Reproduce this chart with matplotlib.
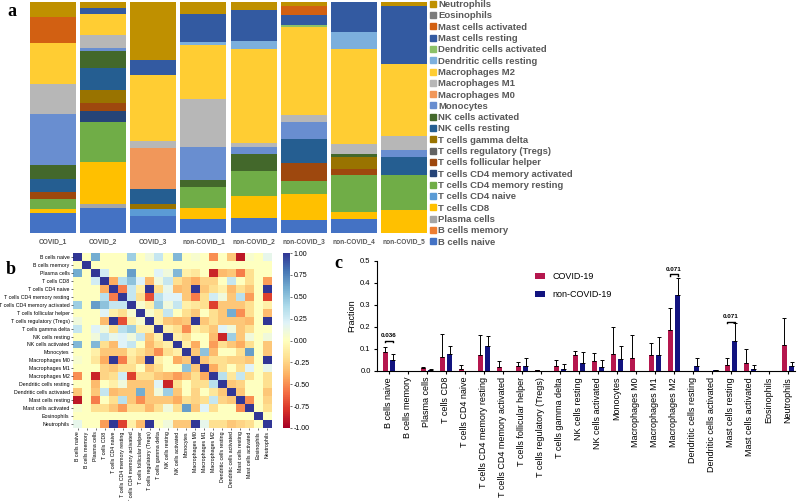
import numpy as np
import matplotlib
matplotlib.use("Agg")
import matplotlib.pyplot as plt
from matplotlib.patches import Patch

plt.rcParams['font.family'] = ['Liberation Sans', 'DejaVu Sans']

# cell types (CIBERSORT order)
cell_types = ["B cells naive", "B cells memory", "Plasma cells", "T cells CD8",
              "T cells CD4 naive", "T cells CD4 memory resting", "T cells CD4 memory activated",
              "T cells follicular helper", "T cells regulatory (Tregs)", "T cells gamma delta",
              "NK cells resting", "NK cells activated", "Monocytes", "Macrophages M0",
              "Macrophages M1", "Macrophages M2", "Dendritic cells resting",
              "Dendritic cells activated", "Mast cells resting", "Mast cells activated",
              "Eosinophils", "Neutrophils"]
cell_colors = ["#4472C4", "#ED7D31", "#A5A5A5", "#FFC000", "#5B9BD5", "#70AD47",
               "#264478", "#9E480E", "#636363", "#997300", "#255E91", "#43682B",
               "#698ED0", "#F1975A", "#B7B7B7", "#FFCD33", "#7CAFDD", "#8CC168",
               "#335AA1", "#D26012", "#7C7C7C", "#BF9000"]

# panel a: relative fractions (%) per sample
samples = ["COVID_1", "COVID_2", "COVID_3", "non-COVID_1", "non-COVID_2",
           "non-COVID_3", "non-COVID_4", "non-COVID_5"]
covid_1 = [8.7, 0, 0, 1.7, 0, 4.2, 0, 3.0, 0, 0, 5.6, 6.1, 22.1, 0, 13.3, 17.7, 0, 0, 0, 11.1, 0, 6.5]
covid_2 = [10.8, 0, 1.6, 18.3, 0, 17.3, 4.8, 3.5, 0, 5.8, 9.4, 7.2, 1.4, 0, 5.5, 9.4, 0, 0, 2.6, 0, 0, 2.5]
covid_3 = [7.2, 0, 0, 0, 3.2, 0, 0, 0, 0, 2.0, 6.8, 0, 0, 17.7, 2.9, 28.7, 0, 0, 6.2, 0, 0, 25.3]
noncovid_1 = [6.2, 0, 0, 4.8, 0, 8.9, 0, 0, 0, 0, 0, 2.9, 14.4, 0, 20.9, 23.1, 1.7, 0, 12.0, 0, 0, 5.1]
noncovid_2 = [6.5, 0, 0, 9.7, 0, 10.7, 0, 0, 0, 0, 0, 7.2, 3.2, 0, 1.7, 40.5, 3.5, 0, 13.7, 0, 0, 3.3]
noncovid_3 = [5.5, 0, 0, 11.5, 0, 5.3, 0, 7.9, 0, 0, 10.5, 0, 7.2, 0, 2.9, 38.2, 0, 1.0, 4.0, 3.9, 0, 1.9]
noncovid_4 = [5.9, 0, 0, 3.2, 0, 16.2, 0, 2.6, 0, 5.1, 0, 1.4, 0, 0, 4.3, 40.8, 7.5, 0, 13.0, 0, 0, 0]
noncovid_5 = [0, 0, 0, 10.1, 0, 14.9, 0, 0, 0, 0, 7.9, 0, 2.9, 0, 6.1, 31.2, 0, 0, 25.3, 0, 0, 1.7]

# panel b: pairwise correlations (upper triangle, others ~0)
corr_pairs = [
    (0, 2, 0.6), (0, 6, 0.45), (0, 8, 0.1), (0, 9, 0.3), (0, 11, 0.55), (0, 13, 0.05),
    (0, 15, -0.5), (0, 17, -0.3), (0, 18, -0.9), (0, 19, 0.05), (0, 21, 0.15),
    (2, 3, 0.25), (2, 6, 0.65), (2, 9, 0.2), (2, 10, 0.1), (2, 11, 0.55), (2, 12, -0.1),
    (2, 13, -0.15), (2, 15, -0.85), (2, 16, -0.35), (2, 17, -0.3), (2, 18, -0.55), (2, 19, -0.2),
    (3, 4, -0.4), (3, 5, 0.35), (3, 6, 0.5), (3, 7, 0.2), (3, 8, -0.35), (3, 9, 0.1),
    (3, 10, 0.3), (3, 11, -0.2), (3, 12, -0.3), (3, 13, -0.4), (3, 14, -0.25), (3, 15, -0.25),
    (3, 17, 0.3), (3, 19, -0.2), (3, 21, -0.45),
    (4, 5, -0.55), (4, 6, 0.3), (4, 7, -0.1), (4, 8, 1.0), (4, 9, -0.2), (4, 10, 0.15),
    (4, 11, -0.35), (4, 12, -0.3), (4, 13, 1.0), (4, 14, -0.3), (4, 15, -0.2), (4, 16, -0.1),
    (4, 17, -0.35), (4, 18, -0.2), (4, 19, -0.3), (4, 21, 1.0),
    (5, 6, 0.3), (5, 7, -0.2), (5, 8, -0.7), (5, 9, 0.35), (5, 10, 0.2), (5, 11, 0.2),
    (5, 12, -0.3), (5, 13, -0.55), (5, 14, -0.2), (5, 15, 0.25), (5, 16, 0.1), (5, 17, -0.3),
    (5, 18, 0.35), (5, 19, -0.45), (5, 21, -0.75),
    (6, 7, 0.05), (6, 8, -0.1), (6, 9, 0.45), (6, 10, 0.1), (6, 11, 0.3), (6, 12, -0.1),
    (6, 13, -0.15), (6, 14, -0.2), (6, 15, -0.75), (6, 16, -0.3), (6, 17, -0.3), (6, 18, -0.3),
    (6, 19, -0.2), (6, 21, -0.1),
    (7, 8, 0.05), (7, 9, -0.1), (7, 10, 0.3), (7, 12, -0.2), (7, 13, -0.3), (7, 15, -0.2),
    (7, 16, -0.3), (7, 17, 0.6), (7, 18, -0.5), (7, 19, -0.2), (7, 21, -0.35),
    (8, 9, -0.1), (8, 10, -0.3), (8, 11, -0.35), (8, 12, -0.3), (8, 13, 1.0), (8, 14, -0.3),
    (8, 15, -0.2), (8, 16, -0.3), (8, 17, -0.3), (8, 18, -0.3), (8, 19, -0.35), (8, 21, 1.0),
    (9, 10, -0.1), (9, 11, -0.2), (9, 12, -0.5), (9, 13, -0.1), (9, 14, -0.2), (9, 15, -0.3),
    (9, 16, 0.2), (9, 17, 0.1), (9, 18, -0.3), (9, 19, -0.2),
    (10, 11, -0.1), (10, 12, -0.2), (10, 15, -0.35), (10, 16, -0.85), (10, 17, 0.45),
    (10, 18, -0.3), (10, 19, 0.1), (10, 21, 0.1),
    (11, 12, -0.1), (11, 13, -0.4), (11, 15, -0.45), (11, 16, -0.2), (11, 17, -0.3),
    (11, 18, -0.4), (11, 19, -0.2), (11, 21, -0.3),
    (12, 13, -0.3), (12, 14, 0.5), (12, 15, -0.35), (12, 18, -0.2), (12, 19, 0.65), (12, 21, -0.3),
    (13, 14, -0.3), (13, 15, -0.2), (13, 16, -0.2), (13, 17, -0.25), (13, 18, -0.25),
    (13, 19, -0.3), (13, 21, 1.0),
    (14, 15, -0.4), (14, 16, -0.2), (14, 18, -0.2), (14, 19, 0.2), (14, 21, 0.15),
    (15, 16, 0.35), (15, 17, -0.15), (15, 18, 0.3), (15, 19, -0.2), (15, 21, -0.2),
    (16, 17, -0.3), (16, 18, -0.25), (16, 21, -0.2),
    (17, 18, -0.3), (17, 21, -0.3),
    (18, 19, -0.5), (18, 21, -0.25),
    (19, 21, -0.2),
]

# panel c: mean fraction and SD per group
covid_mean = [0.086, 0, 0.011, 0.064, 0.008, 0.070, 0.015, 0.020, 0.003, 0.020, 0.073,
              0.042, 0.076, 0.059, 0.071, 0.185, 0, 0, 0.027, 0.036, 0, 0.117]
covid_sd = [0.023, 0, 0.005, 0.103, 0.018, 0.092, 0.030, 0.018, 0.002, 0.030, 0.016,
            0.040, 0.124, 0.103, 0.056, 0.100, 0, 0, 0.032, 0.064, 0, 0.124]
noncovid_mean = [0.047, 0, 0.005, 0.074, 0, 0.112, 0, 0.021, 0, 0.008, 0.036,
                 0.018, 0.055, 0, 0.073, 0.344, 0.023, 0.003, 0.136, 0.008, 0, 0.020]
noncovid_sd = [0.029, 0, 0.002, 0.040, 0, 0.047, 0, 0.035, 0, 0.022, 0.050,
               0.029, 0.057, 0, 0.079, 0.079, 0.033, 0, 0.081, 0.016, 0, 0.021]
pvals = [(0, "0.036", 0.136), (15, "0.071", 0.438), (18, "0.071", 0.223)]

W, H = 800, 501
fig = plt.figure(figsize=(W / 100, H / 100), dpi=100)


def px_axes(x0, y0, x1, y1):
    return fig.add_axes([x0 / W, 1 - y1 / H, (x1 - x0) / W, (y1 - y0) / H])


# ---- a: stacked bars
ax_a = px_axes(30, 2, 427, 233)
frac = np.array([covid_1, covid_2, covid_3, noncovid_1, noncovid_2,
                 noncovid_3, noncovid_4, noncovid_5], dtype=float).T
frac = frac / frac.sum(axis=0) * 100
xs = np.arange(len(samples))
bottom = np.zeros(len(samples))
for k, name in enumerate(cell_types):
    ax_a.bar(xs, frac[k], 0.92, bottom=bottom, color=cell_colors[k], linewidth=0)
    bottom += frac[k]
ax_a.set_xlim(-0.46, len(samples) - 0.54)
ax_a.set_ylim(0, 100)
for s in ax_a.spines.values():
    s.set_visible(False)
ax_a.set_yticks([])
ax_a.set_xticks(xs)
ax_a.set_xticklabels(samples, fontsize=4.8, fontweight='bold', color='#595959')
ax_a.tick_params(axis='x', length=0, pad=4)

handles = [Patch(color=c) for c in cell_colors]
fig.legend(handles[::-1], cell_types[::-1], loc='upper left',
           bbox_to_anchor=(430 / W, 1 - 0 / H), frameon=False,
           prop={'size': 6.8, 'weight': 'bold'}, labelcolor='#595959',
           labelspacing=0.245, handlelength=0.6, handleheight=0.6,
           handletextpad=0.3, borderpad=0, borderaxespad=0)

# ---- b: correlation heatmap
n = len(cell_types)
corr = np.eye(n)
for i, j, r in corr_pairs:
    corr[i, j] = r
    corr[j, i] = r
ax_b = px_axes(73, 253, 272, 428)
mesh = ax_b.pcolormesh(corr, cmap='RdYlBu', vmin=-1, vmax=1)
ax_b.set_xlim(0, n)
ax_b.set_ylim(n, 0)
ax_b.set_xticks(np.arange(n) + 0.5)
ax_b.set_yticks(np.arange(n) + 0.5)
ax_b.set_xticklabels(cell_types, rotation=90, fontsize=3.8)
ax_b.set_yticklabels(cell_types, fontsize=3.8)
ax_b.tick_params(length=1.5, width=0.4, pad=1)
for s in ax_b.spines.values():
    s.set_visible(False)
cax = px_axes(283, 253, 290, 428)
cb = fig.colorbar(mesh, cax=cax, ticks=np.arange(-1, 1.01, 0.25), format='%.2f')
cb.outline.set_visible(False)
cax.tick_params(labelsize=5, length=1.5, width=0.4, pad=1)

# ---- c: grouped bars
ax_c = px_axes(377, 260.7, 795, 370.7)
x = np.arange(n)
ekw = dict(ecolor='black', elinewidth=0.7, capsize=1.5, capthick=0.7)
ax_c.bar(x - 0.19, covid_mean, 0.26, yerr=[np.zeros(n), covid_sd], color='#B5174E',
         error_kw=ekw, label='COVID-19')
ax_c.bar(x + 0.19, noncovid_mean, 0.26, yerr=[np.zeros(n), noncovid_sd], color='#12137F',
         error_kw=ekw, label='non-COVID-19')
for k, txt, yb in pvals:
    ax_c.plot([k - 0.19, k - 0.19, k + 0.19, k + 0.19], [yb - 0.006, yb, yb, yb - 0.006],
              color='black', lw=1.0)
    ax_c.text(k, yb + 0.012, txt, ha='center', va='bottom', fontsize=4.5, fontweight='bold')
ax_c.set_xlim(-0.63, n - 0.63)
ax_c.set_ylim(0, 0.5)
ax_c.set_yticks(np.arange(0, 0.51, 0.1))
ax_c.set_yticklabels(["%.1f" % v for v in np.arange(0, 0.51, 0.1)], fontsize=5.5)
ax_c.set_xticks(x)
ax_c.set_xticklabels(cell_types, rotation=90, fontsize=6.5)
ax_c.tick_params(length=2.5, width=0.8, pad=2)
ax_c.spines['top'].set_visible(False)
ax_c.spines['right'].set_visible(False)
ax_c.spines['left'].set_linewidth(0.8)
ax_c.spines['bottom'].set_linewidth(0.8)
ax_c.set_ylabel('Fraction', fontsize=6.5, labelpad=3)
ax_c.legend(loc='upper left', bbox_to_anchor=(527 / W, 1 - 264 / H),
            bbox_transform=fig.transFigure, frameon=False, fontsize=6.5,
            handlelength=1.1, handleheight=0.8, labelspacing=1.0, handletextpad=0.8)

# panel letters
for lab, (px, py) in {'a': (12, 12), 'b': (11, 269), 'c': (338, 264)}.items():
    fig.text(px / W, 1 - py / H, lab, fontsize=13, fontweight='bold',
             family='Liberation Serif', ha='center', va='center')

fig.savefig('out.png', dpi=100)
